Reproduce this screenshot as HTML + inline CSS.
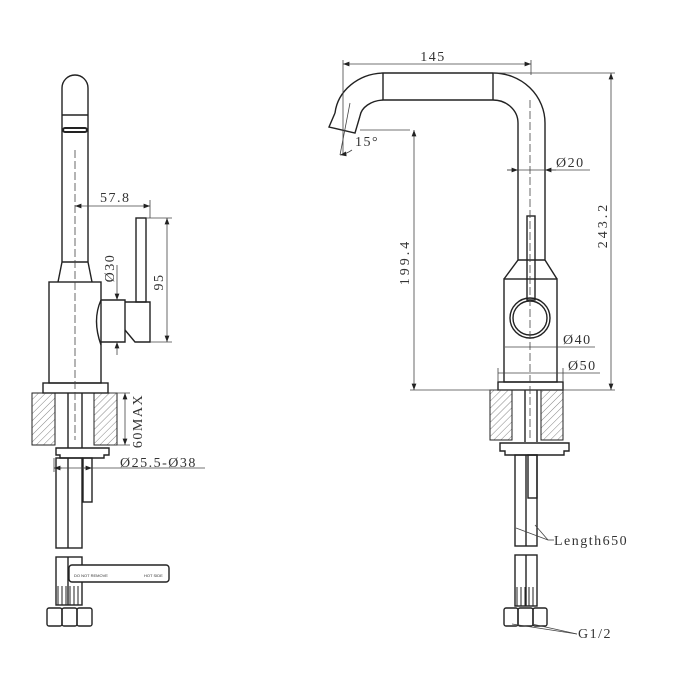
<!DOCTYPE html>
<html><head><style>body{margin:0;background:#fff}svg{display:block}</style></head><body>
<svg width="700" height="700" viewBox="0 0 700 700" xmlns="http://www.w3.org/2000/svg" font-family="Liberation Serif, serif">
<defs>
<pattern id="h" width="5" height="5" patternUnits="userSpaceOnUse" patternTransform="rotate(45)"><line x1="0" y1="0" x2="0" y2="5" stroke="#666" stroke-width="0.8"/></pattern>
<marker id="a" markerWidth="8" markerHeight="6" refX="8" refY="3" orient="auto-start-reverse"><path d="M0,0 L8,3 L0,6z" fill="#222"/></marker>
</defs>
<g fill="none" stroke="#222" stroke-width="1.4">
<!-- LEFT VIEW -->
<path d="M62,262 V88 A13,13 0 0 1 88,88 V262"/>
<line x1="62" y1="115" x2="88" y2="115"/>
<rect x="63" y="128" width="24" height="4" rx="2" stroke-width="2"/>
<path d="M62,262 L58,282 M88,262 L92,282 M62,262 H88"/>
<rect x="49" y="282" width="52" height="101"/>
<rect x="43" y="383" width="65" height="10"/>
<path d="M101,300 Q92,320 101,345"/>
<path d="M101,300 H125 V342 H101"/>
<path d="M125,302 H150 V342 H135 L125,330"/>
<rect x="136" y="218" width="10" height="84"/>
<rect x="32" y="393" width="23" height="52" fill="url(#h)" stroke-width="1"/>
<rect x="94" y="393" width="23" height="52" fill="url(#h)" stroke-width="1"/>
<line x1="68" y1="393" x2="68" y2="448"/><line x1="82" y1="393" x2="82" y2="448"/>
<path d="M56,448 H109 V455 H104 V458 H60 V455 H56z"/>
<rect x="56" y="458" width="26" height="90"/><line x1="68" y1="458" x2="68" y2="548"/>
<rect x="83" y="458" width="9" height="44"/>
<rect x="56" y="557" width="26" height="48"/><line x1="68" y1="557" x2="68" y2="605"/>
<rect x="69" y="565" width="100" height="17" rx="3" fill="#fff"/>
<path d="M58,586 V605 M62,586 V605 M66,586 V605 M70,586 V605 M74,586 V605 M78,586 V605" stroke-width="1"/>
<rect x="47" y="608" width="15" height="18" rx="2"/><rect x="62" y="608" width="15" height="18" rx="2"/><rect x="77" y="608" width="15" height="18" rx="2"/>
<!-- RIGHT VIEW -->
<path d="M335,113 A50,45 0 0 1 383,73 H493 A52,50 0 0 1 545,123 V260 L557,279"/>
<path d="M360,116 A25,18 0 0 1 383,100 H493 A25,23 0 0 1 518,123 V260 L504,279"/>
<line x1="383" y1="73" x2="383" y2="100"/><line x1="493" y1="73" x2="493" y2="100"/>
<line x1="518" y1="260" x2="545" y2="260"/>
<path d="M335,113 L329,127 L355,133 L360,116"/>
<rect x="504" y="279" width="53" height="103"/>
<rect x="498" y="382" width="65" height="8"/>
<rect x="527" y="216" width="8" height="84"/>
<circle cx="530" cy="318" r="20"/><circle cx="530" cy="318" r="17"/>
<rect x="490" y="390" width="22" height="50" fill="url(#h)" stroke-width="1"/>
<rect x="541" y="390" width="22" height="50" fill="url(#h)" stroke-width="1"/>
<line x1="525" y1="390" x2="525" y2="442"/><line x1="537" y1="390" x2="537" y2="442"/>
<path d="M500,443 H569 V451 H564 V455 H505 V451 H500z"/>
<rect x="515" y="455" width="22" height="91"/><line x1="526" y1="455" x2="526" y2="546"/>
<rect x="528" y="455" width="9" height="43"/>
<rect x="515" y="555" width="22" height="51"/><line x1="526" y1="555" x2="526" y2="606"/>
<path d="M517,587 V606 M521,587 V606 M525,587 V606 M529,587 V606 M533,587 V606" stroke-width="1"/>
<rect x="504" y="608" width="14" height="18" rx="2"/><rect x="518" y="608" width="15" height="18" rx="2"/><rect x="533" y="608" width="14" height="18" rx="2"/>
</g>
<!-- dimension & center lines -->
<g fill="none" stroke="#444" stroke-width="0.8">
<line x1="75" y1="150" x2="75" y2="440" stroke-dasharray="8,3"/>
<line x1="530" y1="100" x2="530" y2="440" stroke-dasharray="8,3"/>
<line x1="75" y1="206" x2="150" y2="206" marker-start="url(#a)" marker-end="url(#a)"/>
<line x1="150" y1="200" x2="150" y2="218"/>
<line x1="146" y1="218" x2="172" y2="218"/><line x1="150" y1="342" x2="172" y2="342"/>
<line x1="167" y1="218" x2="167" y2="342" marker-start="url(#a)" marker-end="url(#a)"/>
<line x1="117" y1="265" x2="117" y2="300" marker-end="url(#a)"/>
<line x1="117" y1="355" x2="117" y2="342" marker-end="url(#a)"/>
<line x1="110" y1="393" x2="130" y2="393"/><line x1="110" y1="445" x2="130" y2="445"/>
<line x1="125" y1="393" x2="125" y2="445" marker-start="url(#a)" marker-end="url(#a)"/>
<line x1="54" y1="468" x2="205" y2="468"/>
<line x1="54" y1="458" x2="54" y2="472"/>
<line x1="54" y1="468" x2="62" y2="468" marker-start="url(#a)"/>
<line x1="92" y1="468" x2="84" y2="468" marker-start="url(#a)"/>
<line x1="343" y1="64" x2="531" y2="64" marker-start="url(#a)" marker-end="url(#a)"/>
<line x1="343" y1="60" x2="343" y2="155"/><line x1="531" y1="60" x2="531" y2="75"/>
<line x1="493" y1="73" x2="615" y2="73"/>
<line x1="410" y1="130" x2="360" y2="130"/>
<line x1="414" y1="130" x2="414" y2="390" marker-start="url(#a)" marker-end="url(#a)"/>
<line x1="410" y1="390" x2="615" y2="390"/>
<line x1="611" y1="73" x2="611" y2="390" marker-start="url(#a)" marker-end="url(#a)"/>
<line x1="507" y1="170" x2="590" y2="170"/>
<line x1="507" y1="170" x2="518" y2="170" marker-end="url(#a)"/><line x1="556" y1="170" x2="545" y2="170" marker-end="url(#a)"/>
<line x1="505" y1="347" x2="595" y2="347"/>
<line x1="498" y1="373" x2="600" y2="373"/>
<line x1="498" y1="368" x2="498" y2="382"/><line x1="563" y1="368" x2="563" y2="382"/>
<path d="M340,155 A30,30 0 0 0 352,150" marker-start="url(#a)"/>
<line x1="350" y1="103" x2="340" y2="155"/>
<line x1="516" y1="528" x2="548" y2="540"/><line x1="535" y1="525" x2="548" y2="540"/><line x1="548" y1="540" x2="554" y2="540"/>
<line x1="512" y1="624" x2="577" y2="634"/><line x1="532" y1="624" x2="577" y2="634"/>
</g>
<g fill="#333" font-size="14" letter-spacing="1.5">
<text x="100" y="202">57.8</text>
<text x="433" y="61" text-anchor="middle">145</text>
<text transform="translate(163,282) rotate(-90)" text-anchor="middle">95</text>
<text transform="translate(114,268) rotate(-90)" text-anchor="middle">Ø30</text>
<text transform="translate(142,421) rotate(-90)" text-anchor="middle">60MAX</text>
<text x="120" y="467">Ø25.5-Ø38</text>
<text transform="translate(409,262) rotate(-90)" text-anchor="middle" letter-spacing="3">199.4</text>
<text transform="translate(607,225) rotate(-90)" text-anchor="middle" letter-spacing="3">243.2</text>
<text x="556" y="167">Ø20</text>
<text x="563" y="344">Ø40</text>
<text x="568" y="370">Ø50</text>
<text x="355" y="146">15°</text>
<text x="554" y="545">Length650</text>
<text x="578" y="638">G1/2</text>
<text x="74" y="577" font-size="4" letter-spacing="0" font-family="Liberation Sans, sans-serif">DO NOT REMOVE</text>
<text x="144" y="577" font-size="4" letter-spacing="0" font-family="Liberation Sans, sans-serif">HOT SIDE</text>
</g>
</svg>
</body></html>
